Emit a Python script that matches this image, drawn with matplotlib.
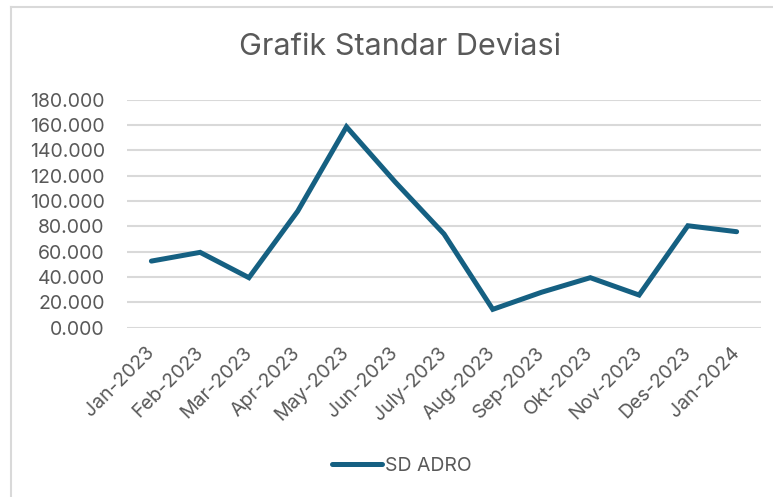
import matplotlib.pyplot as plt
from matplotlib.lines import Line2D

months = ["Jan-2023", "Feb-2023", "Mar-2023", "Apr-2023", "May-2023", "Jun-2023",
          "July-2023", "Aug-2023", "Sep-2023", "Okt-2023", "Nov-2023", "Des-2023", "Jan-2024"]
sd_adro = [52.6, 59.5, 39.5, 92.0, 158.6, 115.0, 74.0, 14.5, 28.0, 39.5, 25.8, 80.5, 75.8]
yticks = [0, 20, 40, 60, 80, 100, 120, 140, 160, 180]

plt.rcParams['font.family'] = ['Inter', 'DejaVu Sans']
txt = '#595959'

fig = plt.figure(figsize=(7.73, 4.97), dpi=100)
ax = fig.add_axes([0.1643, 0.3406, 0.8202, 0.4588])

ax.plot(months, sd_adro, color='#156082', linewidth=3.6, solid_joinstyle='miter',
        solid_capstyle='round', label='SD ADRO')
ax.set_xlim(-0.5, len(months) - 0.5)
ax.set_ylim(0, 180)
ax.set_yticks(yticks)
ax.set_yticklabels([f"{v:.3f}" for v in yticks])
ax.grid(axis='y', color='#D9D9D9', linewidth=1.5)
ax.set_axisbelow(True)
for s in ax.spines.values():
    s.set_visible(False)
ax.tick_params(axis='both', length=0, labelsize=14, colors=txt)
ax.tick_params(axis='y', pad=16)
ax.tick_params(axis='x', pad=16)
plt.setp(ax.get_xticklabels(), rotation=45, ha='right', va='center', rotation_mode='anchor')

fig.text(0.518, 0.905, "Grafik Standar Deviasi", ha='center', va='center', fontsize=22, color=txt)

leg = ax.legend(loc='center', bbox_to_anchor=(0.52, 0.062), bbox_transform=fig.transFigure,
                frameon=False, fontsize=14, handlelength=2.6, handletextpad=0.15)
for t in leg.get_texts():
    t.set_color(txt)

# chart area border (top and left edges visible)
fig.add_artist(Line2D([0.0136, 0.0136], [0, 0.985], color='#D9D9D9', linewidth=1.5,
                      transform=fig.transFigure))
fig.add_artist(Line2D([0.0136, 1], [0.985, 0.985], color='#D9D9D9', linewidth=1.5,
                      transform=fig.transFigure))

fig.savefig('out.png', dpi=100)
